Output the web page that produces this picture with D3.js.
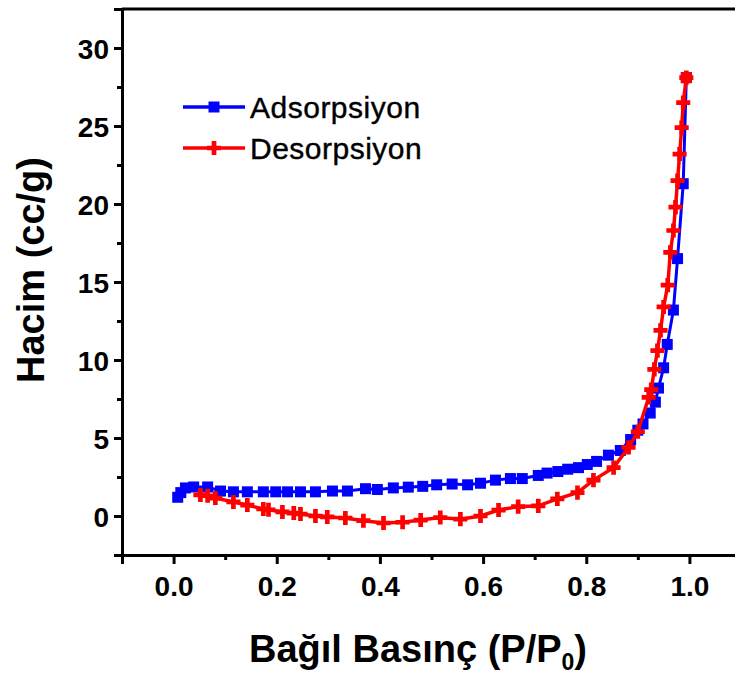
<!DOCTYPE html>
<html>
<head>
<meta charset="utf-8">
<script src="https://cdn.jsdelivr.net/npm/d3@7"></script>
<style>
  body { margin: 0; background: #fff; }
  svg { display: block; font-family: "Liberation Sans", Arial, sans-serif; }
  .tickText { font-size: 28px; font-weight: bold; fill: #000; }
  .axisTitle { font-size: 38px; font-weight: bold; fill: #000; }
  .legendText { font-size: 30px; fill: #000; stroke: #000; stroke-width: 0.4px; letter-spacing: 0.5px; }
</style>
</head>
<body>
<div id="chart"></div>
<script>
// DATA
const adsX = [0.008, 0.014, 0.023, 0.039, 0.066, 0.091, 0.116, 0.143, 0.174, 0.198, 0.221, 0.246, 0.275, 0.308, 0.337, 0.372, 0.395, 0.426, 0.455, 0.483, 0.51, 0.54, 0.57, 0.595, 0.624, 0.653, 0.676, 0.707, 0.724, 0.745, 0.764, 0.785, 0.802, 0.82, 0.843, 0.866, 0.886, 0.9, 0.91, 0.924, 0.934, 0.94, 0.95, 0.957, 0.969, 0.977, 0.988, 0.994];
const adsY = [1.2, 1.5, 1.8, 1.86, 1.86, 1.6, 1.55, 1.55, 1.55, 1.55, 1.55, 1.55, 1.55, 1.6, 1.6, 1.75, 1.7, 1.8, 1.85, 1.9, 2.0, 2.05, 2.0, 2.1, 2.3, 2.4, 2.4, 2.6, 2.75, 2.85, 3.0, 3.1, 3.3, 3.5, 3.9, 4.2, 4.9, 5.5, 5.9, 6.6, 7.3, 8.2, 9.5, 11.0, 13.2, 16.5, 21.3, 28.1];

const desX = [0.052, 0.066, 0.081, 0.116, 0.143, 0.174, 0.184, 0.211, 0.233, 0.246, 0.275, 0.298, 0.333, 0.368, 0.407, 0.444, 0.479, 0.517, 0.556, 0.595, 0.63, 0.668, 0.707, 0.744, 0.783, 0.814, 0.853, 0.882, 0.9, 0.921, 0.926, 0.932, 0.938, 0.944, 0.95, 0.958, 0.963, 0.969, 0.973, 0.977, 0.981, 0.985, 0.988, 0.994];
const desY = [1.35, 1.3, 1.15, 0.9, 0.7, 0.45, 0.4, 0.26, 0.19, 0.13, 0.0, -0.06, -0.13, -0.3, -0.45, -0.4, -0.26, -0.1, -0.2, 0.0, 0.38, 0.6, 0.65, 1.1, 1.5, 2.3, 3.1, 4.4, 5.4, 7.6, 8.1, 9.4, 10.6, 11.9, 13.4, 14.8, 16.9, 18.3, 19.8, 21.5, 23.2, 24.9, 26.5, 28.1];

const xTicks = [0.0, 0.2, 0.4, 0.6, 0.8, 1.0];
const xMinorTicks = [-0.1, 0.1, 0.3, 0.5, 0.7, 0.9, 1.1];
const yTicks = [0, 5, 10, 15, 20, 25, 30];
const yMinorTicks = [-2.5, 2.5, 7.5, 12.5, 17.5, 22.5, 27.5];

const seriesNames = ["Adsorpsiyon", "Desorpsiyon"];
const seriesColors = ["#0000ff", "#ff0000"];

// CHART
const svgWidth = 735;
const svgHeight = 674;

const svg = d3.select("#chart")
  .append("svg")
  .attr("width", svgWidth)
  .attr("height", svgHeight);

const xScale = d3.scaleLinear().domain([-0.1, 1.1]).range([122, 741]);
const yScale = d3.scaleLinear().domain([-2.5, 32.5]).range([555, 9]);

const ads = adsX.map((x, i) => ({x: x, y: adsY[i]}));
const des = desX.map((x, i) => ({x: x, y: desY[i]}));

const line = d3.line().x(d => xScale(d.x)).y(d => yScale(d.y));
const sq = 11;

// Series: adsorption
svg.append("path")
  .datum(ads)
  .attr("d", line)
  .attr("fill", "none")
  .attr("stroke", seriesColors[0])
  .attr("stroke-width", 3);

svg.append("g").selectAll("rect")
  .data(ads)
  .enter()
  .append("rect")
  .attr("x", d => xScale(d.x) - sq / 2)
  .attr("y", d => yScale(d.y) - sq / 2)
  .attr("width", sq)
  .attr("height", sq)
  .attr("fill", seriesColors[0]);

// Series: desorption
svg.append("path")
  .datum(des)
  .attr("d", line)
  .attr("fill", "none")
  .attr("stroke", seriesColors[1])
  .attr("stroke-width", 3.5);

const cross = d3.symbol().type(d3.symbolCross).size(110);
svg.append("g").selectAll("path")
  .data(des)
  .enter()
  .append("path")
  .attr("d", cross)
  .attr("transform", d => `translate(${xScale(d.x)},${yScale(d.y)})`)
  .attr("fill", seriesColors[1]);

// top marker on desorption
svg.append("rect")
  .attr("x", xScale(desX[desX.length - 1]) - sq / 2)
  .attr("y", yScale(desY[desY.length - 1]) - sq / 2)
  .attr("width", sq)
  .attr("height", sq)
  .attr("fill", seriesColors[1]);

// Axes
const xAxis = d3.axisBottom(xScale).tickValues(xTicks).tickSize(9).tickFormat(d3.format(".1f"));
const yAxis = d3.axisLeft(yScale).tickValues(yTicks).tickSize(8).tickFormat(d3.format("d"));

const gx = svg.append("g")
  .attr("transform", `translate(0, ${yScale(-2.5)})`)
  .call(xAxis);
gx.selectAll("text").attr("class", "tickText").attr("dy", "1.02em").attr("font-size", null).attr("font-family", null);

svg.append("g")
  .attr("transform", `translate(0, ${yScale(-2.5)})`)
  .call(d3.axisBottom(xScale).tickValues(xMinorTicks).tickSize(5).tickFormat(""))
  .select(".domain").remove();

const gy = svg.append("g")
  .attr("transform", `translate(${xScale(-0.1)}, 0)`)
  .call(yAxis);
gy.selectAll("text").attr("class", "tickText").attr("x", -13).attr("dy", "0.36em").attr("font-size", null).attr("font-family", null);

svg.append("g")
  .attr("transform", `translate(${xScale(-0.1)}, 0)`)
  .call(d3.axisLeft(yScale).tickValues(yMinorTicks).tickSize(5).tickFormat(""))
  .select(".domain").remove();

svg.selectAll(".domain").attr("stroke", "#000").attr("stroke-width", 3);
svg.selectAll(".tick line").attr("stroke", "#000").attr("stroke-width", 3);

// top and right frame
svg.append("line")
  .attr("x1", xScale(-0.1)).attr("x2", xScale(1.1))
  .attr("y1", yScale(32.5)).attr("y2", yScale(32.5))
  .attr("stroke", "#000").attr("stroke-width", 3);
svg.append("line")
  .attr("x1", xScale(1.1)).attr("x2", xScale(1.1))
  .attr("y1", yScale(32.5)).attr("y2", yScale(-2.5))
  .attr("stroke", "#000").attr("stroke-width", 3);

// Axis titles
svg.append("text")
  .attr("class", "axisTitle")
  .attr("transform", "translate(44, 270) rotate(-90)")
  .attr("text-anchor", "middle")
  .text("Hacim (cc/g)");

const xTitle = svg.append("text")
  .attr("class", "axisTitle")
  .attr("x", 418)
  .attr("y", 662)
  .attr("text-anchor", "middle");
xTitle.append("tspan").text("Bağıl Basınç (P/P");
xTitle.append("tspan").attr("font-size", "23px").attr("dy", 8).text("0");
xTitle.append("tspan").attr("dy", -8).text(")");

// Legend
const legend = svg.append("g");
seriesNames.forEach((name, i) => {
  const ly = 107 + i * 41;
  legend.append("line")
    .attr("x1", 183).attr("x2", 245)
    .attr("y1", ly).attr("y2", ly)
    .attr("stroke", seriesColors[i])
    .attr("stroke-width", 3.5);
  if (i === 0) {
    legend.append("rect")
      .attr("x", 214 - sq / 2).attr("y", ly - sq / 2)
      .attr("width", sq).attr("height", sq)
      .attr("fill", seriesColors[i]);
  } else {
    legend.append("path")
      .attr("d", cross)
      .attr("transform", `translate(214, ${ly})`)
      .attr("fill", seriesColors[i]);
  }
  legend.append("text")
    .attr("class", "legendText")
    .attr("x", 250)
    .attr("y", ly + 11)
    .text(name);
});
</script>
</body>
</html>
